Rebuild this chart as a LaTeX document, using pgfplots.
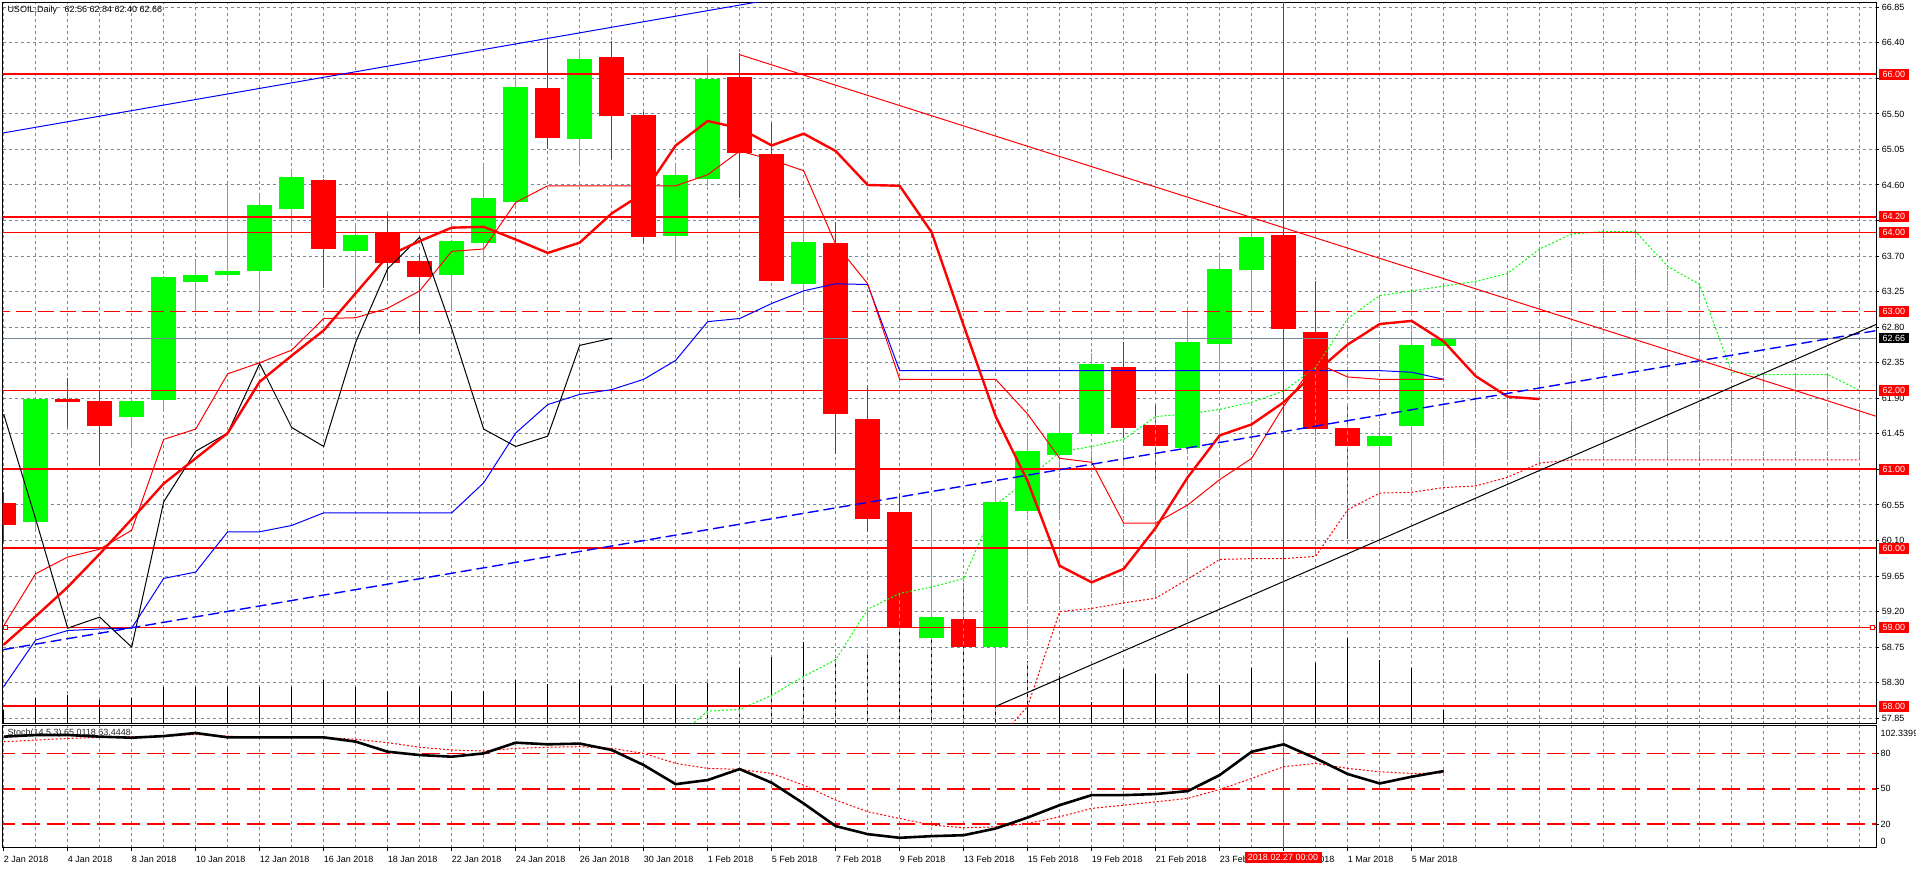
\documentclass[border=0pt]{standalone}
\usepackage{pgfplots}
\pgfplotsset{compat=1.18}
\usepackage{pgfplotstable}
\usepackage{fontspec}
\setmainfont{Liberation Sans}
\definecolor{mtred}{RGB}{255,0,0}
\definecolor{mtgreen}{RGB}{0,255,0}
\definecolor{mtblue}{RGB}{0,0,255}
\definecolor{gridgray}{RGB}{119,136,153}
\newcommand\fs{\fontsize{9}{10}\selectfont}

\pgfplotstableread{
x o h l c
1 60.33 61.90 60.23 61.89
4 61.66 61.91 61.28 61.87
5 61.88 63.45 61.73 63.44
6 63.37 63.64 63.01 63.46
7 63.46 64.62 63.39 63.51
8 63.51 64.47 63.01 64.35
9 64.30 64.79 64.00 64.70
11 63.76 64.09 63.17 63.97
14 63.46 63.90 63.01 63.89
15 63.87 64.87 63.64 64.43
16 64.38 66.00 64.29 65.84
18 65.18 66.31 64.85 66.19
21 63.96 64.88 63.63 64.73
22 64.67 66.22 64.59 65.94
25 63.35 64.26 63.08 63.88
29 58.86 60.55 58.86 59.13
31 58.75 60.77 58.00 60.59
32 60.47 61.43 60.47 61.23
33 61.18 61.83 61.18 61.46
34 61.45 62.47 61.45 62.34
37 61.27 63.04 61.20 62.61
38 62.59 63.71 62.26 63.54
39 63.52 64.20 63.01 63.94
43 61.30 61.43 60.10 61.42
44 61.55 62.60 61.05 62.57
45 62.56 62.84 62.40 62.66
}\bulltable

\pgfplotstableread{
x o h l c
0 60.58 60.71 60.08 60.30
2 61.89 62.16 61.54 61.85
3 61.87 61.99 61.04 61.55
10 64.66 64.67 63.29 63.79
12 64.00 64.23 63.38 63.61
13 63.64 63.71 62.71 63.43
17 65.83 66.44 65.05 65.19
19 66.22 66.42 64.93 65.47
20 65.48 65.53 63.85 63.94
23 65.97 66.27 64.44 65.01
24 64.99 65.38 63.38 63.39
26 63.86 64.13 61.20 61.70
27 61.64 62.05 60.21 60.37
28 60.46 60.70 58.99 58.99
30 59.11 59.55 58.75 58.75
35 62.30 62.61 61.40 61.53
36 61.56 61.82 60.87 61.29
40 63.97 63.98 62.78 62.78
41 62.74 63.38 61.45 61.51
42 61.52 61.82 60.12 61.29
}\beartable

\pgfplotstableread{
x v
0 57.95
1 58.11
2 58.14
3 58.08
4 58.11
5 58.25
6 58.25
7 58.25
8 58.25
9 58.25
10 58.33
11 58.25
12 58.19
13 58.25
14 58.19
15 58.19
16 58.33
17 58.28
18 58.33
19 58.26
20 58.28
21 58.28
22 58.29
23 58.48
24 58.62
25 58.81
26 58.60
27 58.69
28 59.00
29 58.90
30 58.75
31 58.00
32 58.57
33 58.38
34 58.06
35 58.47
36 58.41
37 58.41
38 58.27
39 58.48
40 58.80
41 58.55
42 58.87
43 58.59
44 58.48
45 57.96
}\voltable

\pgfplotstableread{
x a b
21 57.60 57.00
22 57.94 57.00
23 57.96 57.00
24 58.14 57.00
25 58.38 57.00
26 58.59 57.00
27 59.23 57.00
28 59.43 57.00
29 59.51 57.00
30 59.62 57.00
31 60.55 57.55
32 60.87 58.00
33 61.22 59.20
34 61.29 59.24
35 61.38 59.31
36 61.67 59.37
37 61.70 59.61
38 61.76 59.86
39 61.85 59.87
40 61.99 59.87
41 62.29 59.90
42 62.91 60.49
43 63.20 60.70
44 63.26 60.71
45 63.32 60.77
46 63.38 60.79
47 63.48 60.90
48 63.79 61.08
49 63.98 61.12
50 64.01 61.12
51 64.01 61.12
52 63.57 61.12
53 63.34 61.12
54 62.23 61.12
55 62.20 61.12
56 62.20 61.12
57 62.20 61.12
58 62.00 61.12
}\cloudtable

\pgfplotstableread{
x ma tk kj
0 58.78 59.02 58.25
1 59.14 59.68 58.84
2 59.51 59.89 58.96
3 59.93 59.99 58.98
4 60.37 60.23 58.99
5 60.82 61.38 59.62
6 61.14 61.51 59.70
7 61.46 62.21 60.21
8 62.11 62.35 60.21
9 62.44 62.51 60.29
10 62.76 62.91 60.45
11 63.23 62.92 60.45
12 63.70 63.04 60.45
13 63.89 63.26 60.45
14 64.06 63.76 60.45
15 64.07 63.79 60.83
16 63.91 64.38 61.46
17 63.74 64.59 61.82
18 63.87 64.59 61.95
19 64.24 64.59 62.01
20 64.50 64.59 62.14
21 65.10 64.59 62.38
22 65.41 64.73 62.87
23 65.32 65.03 62.91
24 65.10 64.92 63.10
25 65.25 64.78 63.26
26 65.03 63.85 63.35
27 64.60 63.35 63.34
28 64.59 62.14 62.25
29 64.00 62.14 62.25
30 62.82 62.14 62.25
31 61.67 62.14 62.25
32 60.85 61.70 62.25
33 59.78 61.14 62.25
34 59.57 61.09 62.25
35 59.74 60.32 62.25
36 60.26 60.32 62.25
37 60.90 60.55 62.25
38 61.43 60.87 62.25
39 61.57 61.14 62.25
40 61.85 61.80 62.25
41 62.23 62.35 62.25
42 62.58 62.17 62.25
43 62.84 62.14 62.25
44 62.88 62.14 62.23
45 62.62 62.14 62.14
46 62.18 nan nan
47 61.92 nan nan
48 61.89 nan nan
}\linetable

\pgfplotstableread{
x ck
0 61.70
1 60.37
2 58.99
3 59.13
4 58.75
5 60.59
6 61.23
7 61.46
8 62.34
9 61.53
10 61.29
11 62.61
12 63.54
13 63.94
14 62.78
15 61.51
16 61.29
17 61.42
18 62.57
19 62.66
}\chikoutable

\pgfplotstableread{
x k d
0 94.2 89.9
1 95.6 91.3
2 95.6 92.7
3 94.2 93.6
4 93.3 94.2
5 94.7 94.2
6 97.3 96.1
7 93.6 94.7
8 93.6 93.6
9 93.6 93.6
10 93.6 93.6
11 90.0 92.0
12 81.4 89.1
13 78.6 85.2
14 77.2 82.9
15 80.0 82.0
16 89.1 84.3
17 87.7 85.2
18 88.3 85.7
19 82.9 84.3
20 70.1 80.0
21 53.9 71.5
22 57.4 67.3
23 66.7 66.4
24 55.1 63.0
25 37.5 53.1
26 18.3 40.4
27 11.5 30.5
28 8.4 24.8
29 9.8 19.2
30 10.6 16.9
31 16.3 17.7
32 25.6 20.5
33 36.1 26.2
34 44.6 33.3
35 44.6 36.1
36 45.5 38.9
37 48.0 41.8
38 61.6 49.4
39 81.4 58.8
40 87.7 68.7
41 75.8 71.5
42 62.5 67.3
43 54.5 64.4
44 60.2 63.0
45 65.0 63.4
}\stochtable

\newcommand\pbox[3]{\node[fill=#3, text=white, font=\fs, inner xsep=0pt, inner ysep=0pt, minimum width=30.7pt, minimum height=10.4pt, anchor=west] at (1878.3pt,{145.4pt+(#1-57.782)*79pt}) {#2};}

\begin{document}
\begin{tikzpicture}
\fill[white] (0pt,0pt) rectangle (1916pt,869pt);
\node[anchor=west, inner sep=0pt, font=\fs, text=black!85] at (7.3pt,135.7pt) {Stoch(14,5,3) 65.0118 63.4448};

\begin{axis}[
  at={(2.5pt,145.4pt)}, anchor=south west, scale only axis,
  width=1873.5pt, height=721.3pt,
  xmin=-0.0375, xmax=58.51, ymin=57.782, ymax=66.913,
  axis line style={line width=1pt, black},
  xtick={0,...,58}, xticklabels={}, xtick style={draw=none},
  ytick={57.85,58.30,58.75,59.20,59.65,60.10,60.55,61.00,61.45,61.90,62.35,62.80,63.25,63.70,64.15,64.60,65.05,65.50,65.95,66.40,66.85},
  yticklabels={57.85,58.30,58.75,59.20,59.65,60.10,60.55,,61.45,61.90,62.35,62.80,63.25,63.70,,64.60,65.05,65.50,,66.40,66.85},
  ytick pos=right, yticklabel pos=right, tick align=outside, major tick length=3pt,
  ytick style={line width=1pt, black},
  yticklabel style={anchor=west, inner sep=0pt, font=\fs},
  yticklabel shift=2.7pt,
  xmajorgrids, ymajorgrids,
  major grid style={gridgray, line width=1pt, dash pattern=on 3pt off 3pt},
  clip mode=individual,
]
% volumes
\addplot[draw=none, mark=none, error bars/.cd, y dir=plus, y explicit, error mark=none,
  error bar style={draw=black, line width=1pt, solid}]
  table[x=x, y expr=57.5, y error plus expr=\thisrow{v}-57.5] {\voltable};
% wicks
\addplot[draw=none, mark=none, error bars/.cd, y dir=plus, y explicit, error mark=none,
  error bar style={draw=mtgreen, line width=1pt, solid}]
  table[x=x, y=l, y error plus expr=\thisrow{h}-\thisrow{l}] {\bulltable};
\addplot[draw=none, mark=none, error bars/.cd, y dir=plus, y explicit, error mark=none,
  error bar style={draw=mtred, line width=1pt, solid}]
  table[x=x, y=l, y error plus expr=\thisrow{h}-\thisrow{l}] {\beartable};
% bodies
\addplot[draw=none, mark=none, error bars/.cd, y dir=plus, y explicit, error mark=none,
  error bar style={draw=mtgreen, line width=25.4pt, solid}]
  table[x=x, y=o, y error plus expr=\thisrow{c}-\thisrow{o}] {\bulltable};
\addplot[draw=none, mark=none, error bars/.cd, y dir=plus, y explicit, error mark=none,
  error bar style={draw=mtred, line width=25.4pt, solid}]
  table[x=x, y=c, y error plus expr=\thisrow{o}-\thisrow{c}] {\beartable};
% cloud hatching
\addplot[draw=none, mark=none, restrict x to domain=22:58, error bars/.cd, y dir=minus, y explicit, error mark=none,
  error bar style={draw=mtgreen, line width=1pt, dash pattern=on 4pt off 3pt}]
  table[x=x, y=a, y error minus expr=\thisrow{a}-\thisrow{b}] {\cloudtable};
\addplot[mtgreen, line width=1pt, mark=none, dash pattern=on 2pt off 2pt] table[x=x, y=a] {\cloudtable};
\addplot[mtred, line width=1pt, mark=none, dash pattern=on 2pt off 2pt, restrict x to domain=31:58] table[x=x, y=b] {\cloudtable};
% horizontal levels
\addplot[mtred, line width=2pt] coordinates {(-1,66) (60,66)};
\addplot[mtred, line width=2pt] coordinates {(-1,64.2) (60,64.2)};
\addplot[mtred, line width=1pt] coordinates {(-1,64) (60,64)};
\addplot[mtred, line width=1pt, dash pattern=on 16pt off 6pt] coordinates {(-1,63) (60,63)};
\addplot[gridgray, line width=1pt] coordinates {(-1,62.66) (60,62.66)};
\addplot[mtred, line width=1pt] coordinates {(-1,62) (60,62)};
\addplot[mtred, line width=2pt] coordinates {(-1,61) (60,61)};
\addplot[mtred, line width=2pt] coordinates {(-1,60) (60,60)};
\addplot[mtred, line width=1pt] coordinates {(-1,59) (60,59)};
\addplot[mtred, line width=2pt] coordinates {(-1,58) (60,58)};
% indicator lines
\addplot[mtblue, line width=1pt, mark=none] table[x=x, y=kj] {\linetable};
\addplot[mtred, line width=1pt, mark=none] table[x=x, y=tk] {\linetable};
\addplot[black, line width=1pt, mark=none] table[x=x, y=ck] {\chikoutable};
\addplot[mtred, line width=2.4pt, mark=none] table[x=x, y=ma] {\linetable};
% trend lines
\addplot[mtblue, line width=1pt] coordinates {(-0.5,65.225) (30,67.37)};
\addplot[mtblue, line width=1.4pt, dash pattern=on 11pt off 5pt] coordinates {(-1,58.65) (59,62.79)};
\addplot[mtred, line width=1pt] coordinates {(23,66.25) (59,61.61)};
\addplot[black, line width=1pt] coordinates {(31,58.0) (59,62.92)};
\addplot[mtred, line width=1pt] coordinates {(40,57) (40,67)};
\addplot[only marks, mark=square*, mark size=2.2pt, mark options={fill=white, draw=mtred, line width=0.8pt}] coordinates {(0.05,59) (58.4,59)};
\end{axis}

\begin{axis}[
  at={(2.5pt,21.3pt)}, anchor=south west, scale only axis,
  width=1873.5pt, height=122pt,
  xmin=-0.0375, xmax=58.51, ymin=0, ymax=103.5,
  axis line style={line width=1pt, black},
  xtick={0,2,...,44},
  xticklabels={2 Jan 2018,4 Jan 2018,8 Jan 2018,10 Jan 2018,12 Jan 2018,16 Jan 2018,18 Jan 2018,22 Jan 2018,24 Jan 2018,26 Jan 2018,30 Jan 2018,1 Feb 2018,5 Feb 2018,7 Feb 2018,9 Feb 2018,13 Feb 2018,15 Feb 2018,19 Feb 2018,21 Feb 2018,23 Feb 2018,27 Feb 2018,1 Mar 2018,5 Mar 2018},
  minor xtick={1,3,5,7,9,11,13,15,17,19,21,23,25,27,29,31,33,35,37,39,41,43,45,46,47,48,49,50,51,52,53,54,55,56,57,58},
  xtick pos=bottom, ytick pos=right, yticklabel pos=right,
  tick align=outside, major tick length=3pt, minor tick length=0pt,
  xtick style={line width=1pt, black}, ytick style={line width=1pt, black},
  ytick={20,50,80}, yticklabels={20,50,80},
  xticklabel style={anchor=north west, inner sep=0pt, font=\fs, yshift=-5pt},
  xticklabel shift=0pt,
  yticklabel style={anchor=west, inner sep=0pt, font=\fs},
  yticklabel shift=1.4pt,
  xmajorgrids, xminorgrids,
  major grid style={gridgray, line width=1pt, dash pattern=on 3pt off 3pt},
  minor grid style={gridgray, line width=1pt, dash pattern=on 3pt off 3pt},
  clip mode=individual,
]
\addplot[mtred, line width=1.6pt, dash pattern=on 18pt off 7pt] coordinates {(-1,80) (60,80)};
\addplot[mtred, line width=1.6pt, dash pattern=on 18pt off 7pt] coordinates {(-1,50) (60,50)};
\addplot[mtred, line width=1.6pt, dash pattern=on 18pt off 7pt] coordinates {(-1,20) (60,20)};
\addplot[black!60, line width=0.8pt] coordinates {(40,-5) (40,110)};
\addplot[mtred, line width=1pt, mark=none, dash pattern=on 2pt off 2pt] table[x=x, y=d] {\stochtable};
\addplot[black, line width=2.6pt, mark=none] table[x=x, y=k] {\stochtable};
\end{axis}

\node[anchor=west, inner sep=0pt, font=\fs, text=black] at (7.3pt,858.8pt) {USOIL,Daily\hspace{7.5pt}62.56 62.84 62.40 62.66};
\node[anchor=west, inner sep=0pt, font=\fs] at (1880.5pt,135.7pt) {102.3399};
\node[anchor=west, inner sep=0pt, font=\fs] at (1880.5pt,27.3pt) {0};
\pbox{66}{66.00}{mtred}
\pbox{64.2}{64.20}{mtred}
\pbox{64}{64.00}{mtred}
\pbox{63}{63.00}{mtred}
\pbox{62.66}{62.66}{black}
\pbox{62}{62.00}{mtred}
\pbox{61}{61.00}{mtred}
\pbox{60}{60.00}{mtred}
\pbox{59}{59.00}{mtred}
\pbox{58}{58.00}{mtred}
\node[fill=mtred, text=white, font=\fs, inner sep=0pt, minimum width=77pt, minimum height=11pt] at (1283pt,11.8pt) {2018.02.27 00:00};
\pgfresetboundingbox
\useasboundingbox (0pt,0pt) rectangle (1916pt,869pt);
\end{tikzpicture}
\end{document}
